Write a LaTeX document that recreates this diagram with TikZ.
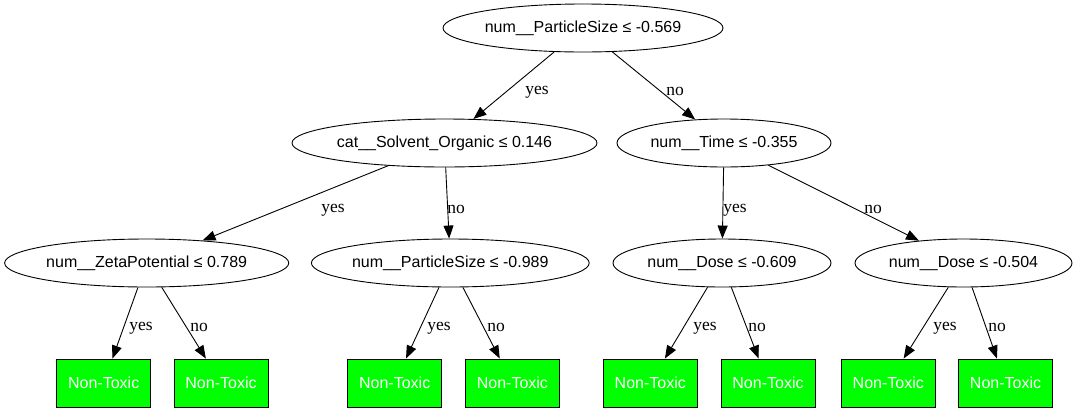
\documentclass[tikz,border=0pt]{standalone}
\usepackage{fontspec}
\setmainfont{Liberation Serif}
\newfontfamily\arialfont{Liberation Sans}
\usetikzlibrary{shapes.geometric,arrows.meta}
\begin{document}
\begin{tikzpicture}[x=1pt,y=-1pt,
  split/.style={ellipse,draw,line width=0.9pt,inner sep=0pt,minimum height=48pt,font=\arialfont\fontsize{16}{18}\selectfont},
  leaf/.style={rectangle,draw,line width=0.9pt,fill=leafgreen,text=white,inner sep=0pt,minimum width=94pt,minimum height=48pt,font=\arialfont\fontsize{16}{18}\selectfont},
  edge/.style={draw,line width=0.9pt,-{Triangle[length=13pt,width=10pt]}},
  lbl/.style={inner sep=0pt,font=\fontsize{17.5}{20}\selectfont}]
\definecolor{leafgreen}{RGB}{0,255,0}
\useasboundingbox (0,0) rectangle (1078,413);
% internal nodes
\node[split,minimum width=280pt] (r) at (583,28) {num\_\_ParticleSize ≤ -0.569};
\node[split,minimum width=305pt] (a) at (444.5,143) {cat\_\_Solvent\_Organic ≤ 0.146};
\node[split,minimum width=214pt] (b) at (724,143) {num\_\_Time ≤ -0.355};
\node[split,minimum width=283pt] (aa) at (146.7,263) {num\_\_ZetaPotential ≤ 0.789};
\node[split,minimum width=277pt] (ab) at (450.3,263) {num\_\_ParticleSize ≤ -0.989};
\node[split,minimum width=218pt] (ba) at (722,263) {num\_\_Dose ≤ -0.609};
\node[split,minimum width=217pt] (bb) at (963.5,263) {num\_\_Dose ≤ -0.504};
% leaves
\node[leaf] (l1) at (103.7,383) {Non-Toxic};
\node[leaf] (l2) at (221,383) {Non-Toxic};
\node[leaf] (l3) at (394.7,383) {Non-Toxic};
\node[leaf] (l4) at (512.4,383) {Non-Toxic};
\node[leaf] (l5) at (650.3,383) {Non-Toxic};
\node[leaf] (l6) at (768,383) {Non-Toxic};
\node[leaf] (l7) at (888.3,383) {Non-Toxic};
\node[leaf] (l8) at (1005.5,383) {Non-Toxic};
% edges
\draw[edge] (r) -- (a);
\draw[edge] (r) -- (b);
\draw[edge] (a) -- (aa);
\draw[edge] (a) -- (ab);
\draw[edge] (b) -- (ba);
\draw[edge] (b) -- (bb);
\draw[edge] (aa) -- (l1);
\draw[edge] (aa) -- (l2);
\draw[edge] (ab) -- (l3);
\draw[edge] (ab) -- (l4);
\draw[edge] (ba) -- (l5);
\draw[edge] (ba) -- (l6);
\draw[edge] (bb) -- (l7);
\draw[edge] (bb) -- (l8);
% edge labels
\node[lbl] (e1) at (537,92) {yes};
\node[lbl] (e2) at (675,91) {no};
\node[lbl] (e3) at (333,210) {yes};
\node[lbl] (e4) at (456,209) {no};
\node[lbl] (e5) at (735,210) {yes};
\node[lbl] (e6) at (873,209) {no};
\node[lbl] (e7) at (141,328) {yes};
\node[lbl] (e8) at (199,327) {no};
\node[lbl] (e9) at (439,328) {yes};
\node[lbl] (e10) at (496,327) {no};
\node[lbl] (e11) at (705,328) {yes};
\node[lbl] (e12) at (757,327) {no};
\node[lbl] (e13) at (945,328) {yes};
\node[lbl] (e14) at (997,327) {no};
\end{tikzpicture}
\end{document}
